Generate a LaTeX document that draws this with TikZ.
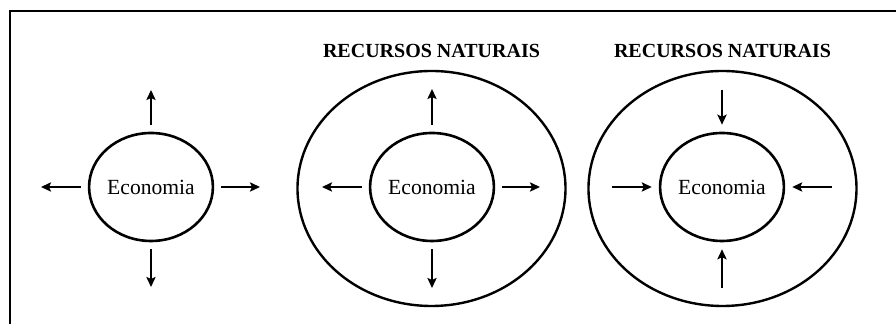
\documentclass[tikz,border=0pt]{standalone}
\usepackage{fontspec}
\setmainfont{Liberation Serif}
\usetikzlibrary{arrows.meta,positioning,shapes.geometric}

\begin{document}
\begin{tikzpicture}[x=0.5pt,y=-0.5pt,>={Stealth[length=5pt,width=4.6pt,inset=1pt]},
 eco/.style={draw,ellipse,line width=1.3pt,minimum width=60pt,minimum height=54pt,inner sep=0pt,font=\fontsize{10.8}{12}\selectfont},
 nat/.style={draw,ellipse,line width=1.2pt,minimum width=134pt,minimum height=117.5pt},
 titulo/.style={inner sep=0pt,font=\bfseries\fontsize{10}{12}\selectfont},
 a/.style={->,line width=1.4pt,shorten <=3.5pt},ain/.style={->,line width=1.4pt,shorten >=3.5pt}]
\useasboundingbox (0,0) rectangle (896,324);
\draw[line width=1pt] (896,11) -- (10,11) -- (10,324);
% economia sozinha
\node[eco] (eco1) at (151,187) {Economia};
\coordinate (u1) at (151,90);\coordinate (l1) at (41,187);\coordinate (r1) at (260,187);\coordinate (d1) at (151,287);
\draw[a] (eco1)--(u1);\draw[a] (eco1)--(l1);\draw[a] (eco1)--(r1);\draw[a] (eco1)--(d1);
% economia dentro dos recursos, crescendo
\node[nat] (nat2) at (431.5,188.5) {};
\node[titulo,above=6pt of nat2] (tit2) {RECURSOS NATURAIS};
\node[eco] (eco2) at (432,187) {Economia};
\coordinate (u2) at (432,89);\coordinate (l2) at (322,187);\coordinate (r2) at (540,187);\coordinate (d2) at (432,288);
\draw[a] (eco2)--(u2);\draw[a] (eco2)--(l2);\draw[a] (eco2)--(r2);\draw[a] (eco2)--(d2);
% recursos pressionando a economia
\node[nat] (nat3) at (722.5,188.5) {};
\node[titulo,above=6pt of nat3] (tit3) {RECURSOS NATURAIS};
\node[eco] (eco3) at (722,187) {Economia};
\coordinate (u3) at (722,90);\coordinate (l3) at (612,187);\coordinate (r3) at (832,187);\coordinate (d3) at (722,288);
\draw[ain] (u3)--(eco3);\draw[ain] (l3)--(eco3);\draw[ain] (r3)--(eco3);\draw[ain] (d3)--(eco3);
\end{tikzpicture}
\end{document}
